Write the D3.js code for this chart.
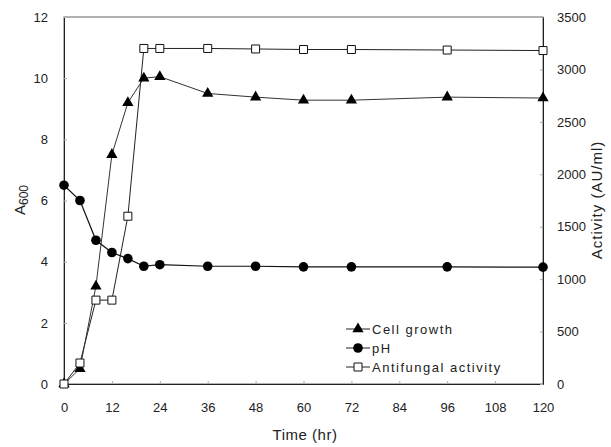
<!DOCTYPE html>
<html>
<head>
<meta charset="utf-8">
<script src="https://cdn.jsdelivr.net/npm/d3@7"></script>
<style>
    body { margin: 0; background: #fff; }
    svg { display: block; }
</style>
</head>
<body>
<div class="chart"></div>
<script>
// time points (hr)
var hours = [0, 4, 8, 12, 16, 20, 24, 36, 48, 60, 72, 96, 120];
// A600 (cell growth)
var cellGrowth = [0, 0.5, 3.2, 7.5, 9.2, 10.0, 10.05, 9.5, 9.38, 9.28, 9.28, 9.38, 9.35];
// pH, plotted on the left scale
var pH = [6.5, 6.0, 4.7, 4.3, 4.1, 3.85, 3.9, 3.85, 3.85, 3.83, 3.83, 3.83, 3.82];
// antifungal activity (AU/ml), right scale
var activity = [0, 200, 800, 800, 1600, 3200, 3200, 3200, 3195, 3190, 3190, 3185, 3180];

var xTicks = [0, 12, 24, 36, 48, 60, 72, 84, 96, 108, 120];
var leftTicks = [0, 2, 4, 6, 8, 10, 12];
var rightTicks = [0, 500, 1000, 1500, 2000, 2500, 3000, 3500];

var legendNames = ["Cell growth", "pH", "Antifungal activity"];

var w = 611;
var h = 447;
var plotLeft = 64, plotRight = 543, plotTop = 17, plotBottom = 384;
var font = "Liberation Sans, Arial, sans-serif";

var xScale = d3.scaleLinear().domain([0, 120]).range([plotLeft, plotRight]);
var yScale = d3.scaleLinear().domain([0, 12]).range([plotBottom, plotTop]);
var y2Scale = d3.scaleLinear().domain([0, 3500]).range([plotBottom, plotTop]);

var svg = d3.select(".chart")
            .append("svg")
            .attr("width", w)
            .attr("height", h);

//Frame
svg.append("rect")
    .attr("x", plotLeft)
    .attr("y", plotTop)
    .attr("width", plotRight - plotLeft)
    .attr("height", plotBottom - plotTop)
    .attr("fill", "none")
    .attr("stroke", "#666")
    .attr("stroke-width", 1);

var xAxis = d3.axisBottom(xScale).tickValues(xTicks).tickSizeInner(-3).tickSizeOuter(0).tickPadding(19);
var yAxis = d3.axisLeft(yScale).tickValues(leftTicks).tickSizeInner(-3).tickSizeOuter(0).tickPadding(16);
var y2Axis = d3.axisRight(y2Scale).tickValues(rightTicks).tickFormat(d3.format("d"))
                .tickSizeInner(-3).tickSizeOuter(0).tickPadding(14);

function styleAxis(g){
    g.select(".domain").attr("stroke", "#222");
    g.selectAll(".tick line").attr("stroke", "#aaa");
    g.selectAll("text")
        .attr("fill", "#222")
        .style("font-family", font)
        .style("font-size", "13px");
}

svg.append("g")
    .attr("transform", "translate(0," + plotBottom + ")")
    .call(xAxis)
    .call(styleAxis);

svg.append("g")
    .attr("transform", "translate(" + plotLeft + ",0)")
    .call(yAxis)
    .call(styleAxis);

svg.append("g")
    .attr("transform", "translate(" + plotRight + ",0)")
    .call(y2Axis)
    .call(styleAxis);

//Axis titles
svg.append("text")
    .attr("x", 305)
    .attr("y", 440)
    .attr("text-anchor", "middle")
    .style("font-family", font)
    .style("font-size", "15px")
    .style("letter-spacing", "0.5px")
    .attr("fill", "#222")
    .text("Time (hr)");

var aLabel = svg.append("text")
    .attr("transform", "translate(25,200) rotate(-90)")
    .attr("text-anchor", "middle")
    .style("font-family", font)
    .style("font-size", "15px")
    .attr("fill", "#222");
aLabel.append("tspan").text("A");
aLabel.append("tspan").attr("dy", 3).style("font-size", "12px").text("600");

svg.append("text")
    .attr("transform", "translate(602,200) rotate(-90)")
    .attr("text-anchor", "middle")
    .style("font-family", font)
    .style("font-size", "15px")
    .style("letter-spacing", "1px")
    .attr("fill", "#222")
    .text("Activity (AU/ml)");

//Lines
var growthData = hours.map(function(d, i){ return {x: d, y: cellGrowth[i]}; });
var phData = hours.map(function(d, i){ return {x: d, y: pH[i]}; });
var actData = hours.map(function(d, i){ return {x: d, y: activity[i]}; });

var line = d3.line()
    .x(function(d){ return xScale(d.x); })
    .y(function(d){ return yScale(d.y); });

var line2 = d3.line()
    .x(function(d){ return xScale(d.x); })
    .y(function(d){ return y2Scale(d.y); });

svg.append("path")
    .datum(actData)
    .attr("d", line2)
    .attr("fill", "none")
    .attr("stroke", "#222")
    .attr("stroke-width", 1);

svg.append("path")
    .datum(growthData)
    .attr("d", line)
    .attr("fill", "none")
    .attr("stroke", "#333")
    .attr("stroke-width", 1);

svg.append("path")
    .datum(phData)
    .attr("d", line)
    .attr("fill", "none")
    .attr("stroke", "#111")
    .attr("stroke-width", 1.2);

var triangle = d3.symbol().type(d3.symbolTriangle).size(55);
var square = "M-4,-4H4V4H-4Z";

//Markers
svg.selectAll(".growth")
    .data(growthData)
    .enter()
    .append("path")
    .attr("class", "growth")
    .attr("d", triangle)
    .attr("transform", function(d){
        return "translate(" + xScale(d.x) + "," + yScale(d.y) + ")";
    })
    .attr("fill", "#000");

svg.selectAll(".ph")
    .data(phData)
    .enter()
    .append("circle")
    .attr("class", "ph")
    .attr("cx", function(d){ return xScale(d.x); })
    .attr("cy", function(d){ return yScale(d.y); })
    .attr("r", 4.8)
    .attr("fill", "#000");

svg.selectAll(".act")
    .data(actData)
    .enter()
    .append("path")
    .attr("class", "act")
    .attr("d", square)
    .attr("transform", function(d){
        return "translate(" + xScale(d.x) + "," + y2Scale(d.y) + ")";
    })
    .attr("fill", "#fff")
    .attr("stroke", "#111")
    .attr("stroke-width", 1);

//Legend
var legend = svg.selectAll(".legend")
    .data(legendNames)
    .enter()
    .append("g")
    .attr("class", "legend")
    .attr("transform", function(d, i){
        return "translate(346," + (329 + i * 19) + ")";
    });

legend.append("line")
    .attr("x1", 0)
    .attr("x2", 24)
    .attr("stroke", "#222")
    .attr("stroke-width", 1);

legend.each(function(d, i){
    var g = d3.select(this);
    if(i == 0){
        g.append("path").attr("d", triangle).attr("transform", "translate(12,0)").attr("fill", "#000");
    }else if(i == 1){
        g.append("circle").attr("cx", 12).attr("r", 4.8).attr("fill", "#000");
    }else{
        g.append("path").attr("d", square).attr("transform", "translate(12,0)")
            .attr("fill", "#fff").attr("stroke", "#111");
    }
});

legend.append("text")
    .attr("x", 26)
    .attr("y", 5)
    .style("font-family", font)
    .style("font-size", "13px")
    .style("letter-spacing", "1.5px")
    .attr("fill", "#222")
    .text(function(d){ return d; });
</script>
</body>
</html>
